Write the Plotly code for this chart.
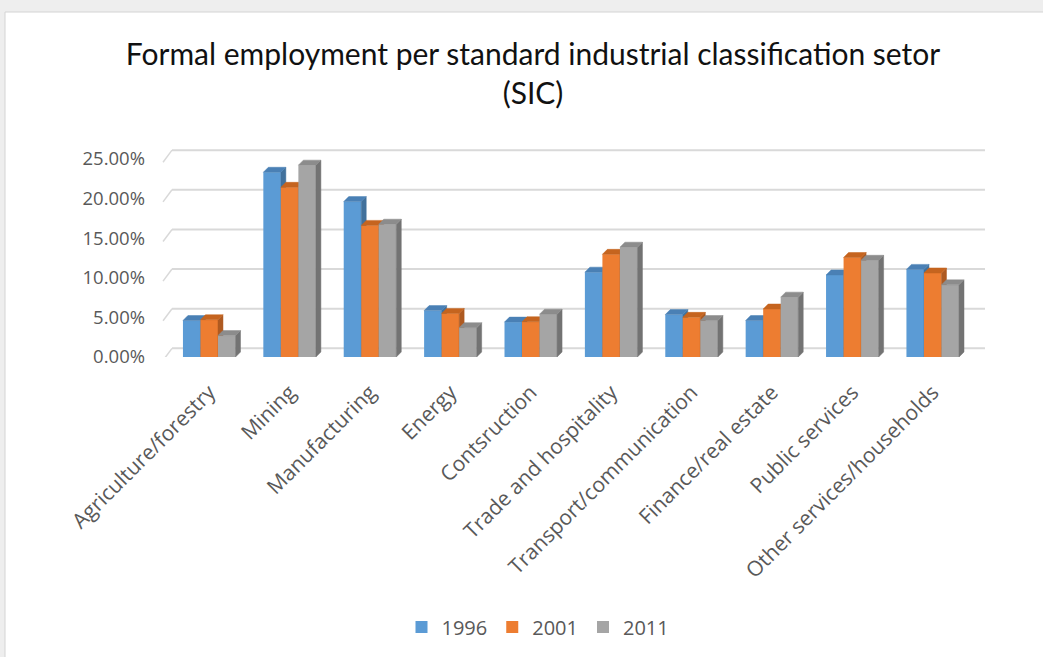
import plotly.graph_objects as go

categories = ["Agriculture/forestry", "Mining", "Manufacturing", "Energy", "Contsruction",
              "Trade and hospitality", "Transport/communication", "Finance/real estate",
              "Public services", "Other services/households"]
years = ["1996", "2001", "2011"]
v1996 = [0.046, 0.233, 0.196, 0.0585, 0.044, 0.107, 0.0535, 0.046, 0.1035, 0.1105]
v2001 = [0.047, 0.214, 0.166, 0.055, 0.0445, 0.1295, 0.050, 0.0605, 0.1255, 0.106]
v2011 = [0.027, 0.242, 0.1675, 0.037, 0.054, 0.1385, 0.046, 0.0755, 0.122, 0.091]
y_ticks = [0, 0.05, 0.10, 0.15, 0.20, 0.25]

front_colors = ["#5B9BD5", "#ED7D31", "#A5A5A5"]
side_colors = ["#41719C", "#AE5A21", "#737373"]
top_colors = ["#4A80B5", "#C5641F", "#8C8C8C"]

series = [v1996, v2001, v2011]
idx = list(range(len(categories)))

bargap = 0.346
w = (1 - bargap) / 3
dx, dy = 0.062, 0.0063          # bar depth (3-D look)
wall_dx, wall_dy = 0.137, 0.0109  # back wall offset
x_range = [-0.6, 9.7]
y_range = [0, 0.28]

W, H = 1043, 657
ml, mr, mt, mb = 161, 54, 135, 300

fig = go.Figure()

for i, (name, vals) in enumerate(zip(years, series)):
    xa = "x" if i == 0 else f"x{i+1}"
    ya = "y" if i == 0 else f"y{i+1}"
    off = -1.5 * w + i * w
    fig.add_trace(go.Bar(x=idx, y=vals, width=w, offset=off, name=name,
                         marker=dict(color=front_colors[i], line=dict(width=0)),
                         xaxis=xa, yaxis=ya, hovertemplate="%{y:.2%}<extra>" + name + "</extra>"))
    sx, sy, tx, ty = [], [], [], []
    for c, v in zip(idx, vals):
        left = c + off
        right = left + w
        sx += [right, right + dx, right + dx, right, right, None]
        sy += [0, dy, v + dy, v, 0, None]
        tx += [left, left + dx, right + dx, right, left, None]
        ty += [v, v + dy, v + dy, v, v, None]
    fig.add_trace(go.Scatter(x=sx, y=sy, fill="toself", mode="lines",
                             line=dict(width=0.5, color=side_colors[i]), fillcolor=side_colors[i],
                             showlegend=False, hoverinfo="skip", xaxis=xa, yaxis=ya))
    fig.add_trace(go.Scatter(x=tx, y=ty, fill="toself", mode="lines",
                             line=dict(width=0.5, color=top_colors[i]), fillcolor=top_colors[i],
                             showlegend=False, hoverinfo="skip", xaxis=xa, yaxis=ya))

shapes = []
# chart area frame
pw = W - ml - mr
ph = H - mt - mb
shapes.append(dict(type="rect", xref="paper", yref="paper",
                   x0=(5 - ml) / pw, x1=(W + 5 - ml) / pw,
                   y0=(H - mb - H - 5) / ph, y1=(H - mb - 12) / ph,
                   fillcolor="white", line=dict(color="#D4D4D4", width=1), layer="below"))
# back-wall gridlines
for t in y_ticks:
    shapes.append(dict(type="line", xref="x", yref="y",
                       x0=x_range[0] + wall_dx, x1=x_range[1] - 0.05,
                       y0=t + wall_dy, y1=t + wall_dy,
                       line=dict(color="#D9D9D9", width=2), layer="below"))
    shapes.append(dict(type="line", xref="x", yref="y",
                       x0=x_range[0] + 0.025, x1=x_range[0] + wall_dx,
                       y0=t - 0.0043, y1=t + wall_dy,
                       line=dict(color="#D9D9D9", width=1.5), layer="below"))

fig.update_layout(
    width=W, height=H,
    margin=dict(l=ml, r=mr, t=mt, b=mb),
    paper_bgcolor="#EEEEEE",
    plot_bgcolor="rgba(0,0,0,0)",
    barmode="overlay",
    shapes=shapes,
    title=dict(text="Formal employment per standard industrial classification setor<br>(SIC)",
               x=533 / W, xref="container", xanchor="center",
               y=1 - 65 / H, yref="container", yanchor="middle",
               font=dict(family="Lato", size=30, color="#111111")),
    legend=dict(orientation="h", x=538 / W, xref="container", xanchor="center",
                y=1 - 627 / H, yref="container", yanchor="middle",
                font=dict(family="Open Sans", size=20, color="#595959"),
                itemwidth=30, traceorder="normal", bgcolor="rgba(0,0,0,0)"),
    xaxis=dict(range=x_range, tickmode="array", tickvals=idx, ticktext=categories,
               tickangle=-45, showgrid=False, zeroline=False, showline=False, ticks="",
               tickfont=dict(family="Open Sans", size=21, color="#595959"),
               ticklabelstandoff=18),
    yaxis=dict(range=y_range, tickmode="array", tickvals=y_ticks, tickformat=".2%",
               showgrid=False, zeroline=False, showline=False, ticks="",
               tickfont=dict(family="Open Sans", size=18.5, color="#595959"),
               ticklabelstandoff=15),
)
for k in (2, 3):
    fig.update_layout(**{
        f"xaxis{k}": dict(range=x_range, overlaying="x", visible=False),
        f"yaxis{k}": dict(range=y_range, overlaying="y", visible=False),
    })

fig.write_html("out.html", config={"displayModeBar": False},
               post_script="document.body.style.margin='0';")
